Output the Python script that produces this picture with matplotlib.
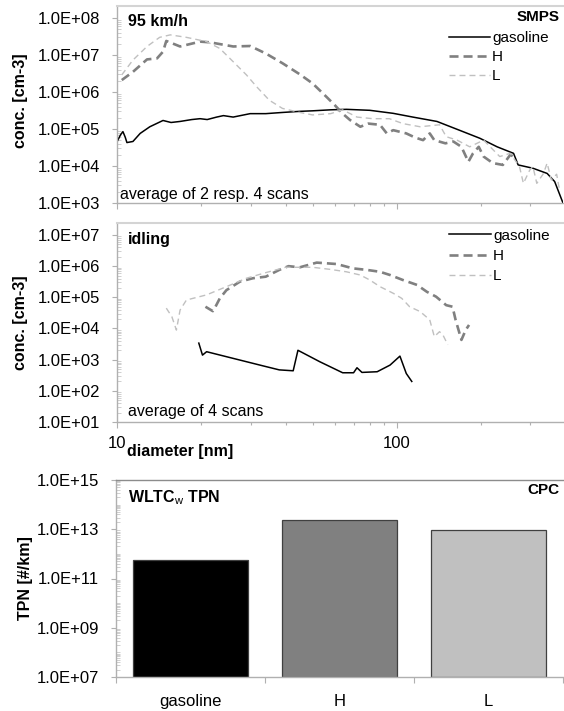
import numpy as np
import matplotlib
matplotlib.use("Agg")
import matplotlib.pyplot as plt
from matplotlib.ticker import FixedLocator, FuncFormatter, NullFormatter

plt.rcParams['font.family'] = ['Liberation Sans', 'DejaVu Sans']
plt.rcParams['mathtext.fontset'] = 'custom'
plt.rcParams['mathtext.rm'] = 'Liberation Sans'
plt.rcParams['mathtext.bf'] = 'Liberation Sans:bold'
plt.rcParams['lines.scale_dashes'] = False

# ---------------- data ----------------
# 95 km/h (SMPS)
d95_gas = [10.0, 10.3, 10.5, 10.7, 10.85, 11.4, 12.1, 13.1, 14.6, 15.6, 16.8, 18.5, 19.8, 21.0, 22.7, 24.0,
           26.0, 29.9, 34.0, 39.0, 45.0, 50.0, 58.0, 66.0, 80.0, 97.0, 114.0, 139.0, 167.0, 198.0, 228.0,
           261.0, 271.0, 306.0, 344.0, 366.0, 392.0]
c95_gas = [4.5e4, 7e4, 8.5e4, 6e4, 4.3e4, 4.6e4, 7.6e4, 1.15e5, 1.7e5, 1.5e5, 1.6e5, 1.8e5, 1.9e5, 1.8e5, 2.1e5, 2.3e5,
           2.1e5, 2.6e5, 2.6e5, 2.8e5, 3.0e5, 3.1e5, 3.3e5, 3.4e5, 3.2e5, 2.65e5, 2.1e5, 1.6e5, 9.3e4, 5.6e4, 3.3e4,
           2.2e4, 1.07e4, 8.7e3, 6.3e3, 3.8e3, 1.0e3]
d95_H = [10.4, 11.4, 12.8, 13.9, 14.6, 15.0, 16.8, 19.8, 21.5, 26.0, 29.9, 34.0, 39.0, 45.0, 50.0, 56.0, 60.0,
         64.0, 68.0, 74.0, 79.0, 87.0, 92.0, 97.0, 108.0, 116.0, 124.0, 131.0, 136.0, 149.0, 159.0, 170.0,
         180.0, 187.0, 196.0, 204.0, 220.0, 239.0, 254.0, 261.0]
c95_H = [2.1e6, 3.5e6, 7.6e6, 8.1e6, 1.23e7, 2.4e7, 1.7e7, 2.3e7, 2.2e7, 1.7e7, 1.75e7, 1.1e7, 6e6, 3e6, 1.7e6,
         7.4e5, 4.4e5, 2.6e5, 1.75e5, 1.15e5, 1.4e5, 1.3e5, 7.6e4, 9.3e4, 7.6e4, 5.9e4, 5e4, 7.6e4, 5e4,
         4.1e4, 4.6e4, 3.3e4, 1.3e4, 2.2e4, 3.3e4, 1.8e4, 1.2e4, 1.07e4, 2e4, 1.8e4]
d95_L = [10.4, 11.4, 12.8, 14.2, 15.5, 17.7, 20.9, 23.3, 26.0, 29.0, 31.5, 35.0, 39.0, 45.0, 50.0, 58.0, 64.0,
         72.0, 82.0, 94.0, 105.0, 121.0, 142.0, 150.0, 164.0, 182.0, 204.0, 220.0, 233.0, 254.0, 274.0, 283.0,
         298.0, 306.0, 316.0, 334.0, 344.0, 356.0, 372.0, 380.0]
c95_L = [2.9e6, 7.3e6, 1.7e7, 3e7, 3.5e7, 3e7, 2.3e7, 1.5e7, 6.6e6, 2.9e6, 1.4e6, 6e5, 3.6e5, 2.8e5, 2.4e5,
         2.6e5, 3.3e5, 2.1e5, 1.9e5, 1.9e5, 1.4e5, 1.15e5, 1.3e5, 6.2e4, 5e4, 3.3e4, 5e4, 2.8e4, 1.8e4, 2.2e4,
         9.7e3, 3.4e3, 7.7e3, 9.7e3, 3.4e3, 6.3e3, 1.2e4, 4.2e3, 6e3, 2.5e3]

# idling (SMPS)
did_gas = [19.6, 20.2, 20.9, 26.0, 33.3, 38.0, 42.6, 44.3, 53.0, 64.0, 70.0, 72.0, 75.0, 85.0, 94.5, 102.5,
           108.0, 113.0]
cid_gas = [3.4e3, 1.4e3, 1.8e3, 1.1e3, 6.3e2, 4.7e2, 4.4e2, 2.0e3, 8.6e2, 3.8e2, 3.8e2, 5.5e2, 3.9e2, 4.1e2,
           6.7e2, 1.3e3, 3.6e2, 2.0e2]
did_H = [20.7, 22.0, 22.4, 23.3, 24.6, 27.5, 30.6, 34.0, 38.0, 41.0, 45.0, 51.7, 61.0, 69.6, 78.0, 87.0, 94.5,
         105.0, 118.0, 128.0, 138.0, 150.0, 158.0, 162.0, 170.0, 176.0, 181.0]
cid_H = [5e4, 3.6e4, 4.7e4, 9.3e4, 1.7e5, 3.2e5, 4.1e5, 4.6e5, 7.6e5, 1.0e6, 9.2e5, 1.3e6, 1.17e6, 8.5e5,
         7.6e5, 6.6e5, 5.2e5, 3.6e5, 2.5e5, 1.5e5, 1.05e5, 5.6e4, 5e4, 1.9e4, 4.3e3, 8.9e3, 1.3e4]
did_L = [15.0, 15.7, 16.3, 16.8, 17.7, 20.9, 24.6, 29.0, 34.0, 40.0, 50.0, 57.7, 66.0, 74.0, 80.0, 87.0, 97.0,
         104.0, 111.0, 121.0, 131.0, 136.0, 142.0, 146.0, 150.0, 152.0]
cid_L = [4.5e4, 2.4e4, 8.9e3, 3.9e4, 8.2e4, 1.2e5, 2.2e5, 4.1e5, 6.2e5, 9.2e5, 9.2e5, 7.9e5, 6.6e5, 5.2e5,
         3.6e5, 2.2e5, 1.35e5, 9.3e4, 5e4, 3.5e4, 1.9e4, 5.5e3, 7.9e3, 6.2e3, 3.8e3, 3.0e3]

# WLTC TPN (CPC)
fuels = ['gasoline', 'H', 'L']
tpn = [5.9e11, 2.3e13, 8.9e12]

series_labels = ['gasoline', 'H', 'L']

# ---------------- styles ----------------
W, H = 564, 711
fig = plt.figure(figsize=(W / 100, H / 100), dpi=100)

def frac(l, t, r, b):
    return [l / W, 1 - b / H, (r - l) / W, (b - t) / H]

GRID = '#b0b0b0'
FRAME = '#d4d4d4'
FS = 11.5
FT = 12

def sci(v, pos):
    return f"{v:.1E}"

def style_log_y(ax, majors, top_val):
    ax.set_yscale('log')
    ax.yaxis.set_major_locator(FixedLocator(majors))
    mins = []
    lo, hi = np.log10(majors[0]), np.log10(top_val)
    for e in range(int(lo), int(hi) + 1):
        for s in range(1, 10):
            v = s * 10.0 ** e
            if majors[0] < v <= top_val and v not in majors:
                mins.append(v)
    ax.yaxis.set_minor_locator(FixedLocator(mins))
    ax.yaxis.set_minor_formatter(NullFormatter())
    ax.yaxis.set_major_formatter(FuncFormatter(sci))
    ax.tick_params(axis='y', which='major', direction='out', length=3.6, width=0.8, color=GRID,
                   labelsize=FT, pad=8.5)
    ax.tick_params(axis='y', which='minor', direction='in', length=3.0, width=0.6, color='#c8c8c8')
    for s in ['left', 'bottom']:
        ax.spines[s].set_color(GRID)
        ax.spines[s].set_linewidth(1.0)
    ax.spines['right'].set_visible(False)

def style_x(ax, labels):
    ax.set_xscale('log')
    ax.set_xlim(10, 392)
    ax.xaxis.set_major_locator(FixedLocator([10, 100]))
    ax.xaxis.set_minor_locator(FixedLocator([20, 30, 40, 50, 60, 70, 80, 90, 200, 300]))
    ax.xaxis.set_minor_formatter(NullFormatter())
    if labels:
        ax.xaxis.set_major_formatter(FuncFormatter(lambda v, p: f"{v:g}"))
    else:
        ax.xaxis.set_major_formatter(NullFormatter())
    ax.tick_params(axis='x', which='major', direction='out', length=4.3, width=0.8, color=GRID,
                   labelsize=FT, pad=6)
    ax.tick_params(axis='x', which='minor', direction='out', length=2.5, width=0.8, color=GRID)

def plot_lines(ax, d_g, c_g, d_h, c_h, d_l, c_l):
    ax.plot(d_g, c_g, color='black', lw=1.1, label=series_labels[0])
    ax.plot(d_h, c_h, color='#808080', lw=1.9, linestyle=(0, (6.5, 3.6)), label=series_labels[1])
    ax.plot(d_l, c_l, color='#c0c0c0', lw=1.0, linestyle=(0, (4.3, 2.9)), label=series_labels[2])

def add_legend(ax, x, y, spacing):
    leg = ax.legend(loc='upper right', bbox_to_anchor=(x, y), frameon=False, fontsize=11,
                    handlelength=2.7, handletextpad=0.15, labelspacing=spacing, borderpad=0,
                    borderaxespad=0)
    return leg

# ---------------- top panel: 95 km/h ----------------
ax1 = fig.add_axes(frac(117, 6, 563, 203))
plot_lines(ax1, d95_gas, c95_gas, d95_H, c95_H, d95_L, c95_L)
top1 = 10 ** (8 + 12 / 37)
ax1.set_ylim(1e3, top1)
style_log_y(ax1, [1e3, 1e4, 1e5, 1e6, 1e7, 1e8], 1e8)
style_x(ax1, False)
ax1.spines['top'].set_color(FRAME)
ax1.spines['top'].set_linewidth(1.5)
ax1.set_ylabel('conc. [cm-3]', fontsize=FS, fontweight='bold')
ax1.yaxis.set_label_coords((28 - 117) / 446, 0.52)
ax1.text(0.025, 0.919, '95 km/h', transform=ax1.transAxes, fontsize=FS, fontweight='bold',
         ha='left', va='center')
ax1.text(0.993, 0.944, 'SMPS', transform=ax1.transAxes, fontsize=11, fontweight='bold',
         ha='right', va='center')
ax1.text(0.006, 0.018, 'average of 2 resp. 4 scans', transform=ax1.transAxes, fontsize=FS,
         ha='left', va='baseline')
add_legend(ax1, 0.968, 0.872, 0.32)

# ---------------- middle panel: idling ----------------
ax2 = fig.add_axes(frac(117, 223, 563, 422))
plot_lines(ax2, did_gas, cid_gas, did_H, cid_H, did_L, cid_L)
top2 = 10 ** (7 + 12 / 31.17)
ax2.set_ylim(10, top2)
style_log_y(ax2, [1e1, 1e2, 1e3, 1e4, 1e5, 1e6, 1e7], 1e7)
style_x(ax2, True)
ax2.spines['top'].set_color(FRAME)
ax2.spines['top'].set_linewidth(1.5)
ax2.set_ylabel('conc. [cm-3]', fontsize=FS, fontweight='bold')
ax2.yaxis.set_label_coords((28 - 117) / 446, 0.50)
ax2.set_xlabel('diameter [nm]', fontsize=FS, fontweight='bold')
ax2.xaxis.set_label_coords((180 - 117) / 446, -0.15)
ax2.xaxis.label.set_va('center')
ax2.text(0.025, 0.915, 'idling', transform=ax2.transAxes, fontsize=FS, fontweight='bold',
         ha='left', va='center')
ax2.text(0.025, 0.03, 'average of 4 scans', transform=ax2.transAxes, fontsize=FS,
         ha='left', va='baseline')
add_legend(ax2, 0.970, 0.972, 0.42)

# ---------------- bottom panel: TPN ----------------
ax3 = fig.add_axes(frac(116, 480, 563, 677))
xpos = np.arange(len(fuels))
ax3.bar(xpos, tpn, width=0.77, color=['black', '#808080', '#c0c0c0'], edgecolor='#404040',
        linewidth=0.9, bottom=1e7)
ax3.set_xlim(-0.5, len(fuels) - 0.5)
ax3.set_ylim(1e7, 1e15)
style_log_y(ax3, [1e7, 1e9, 1e11, 1e13, 1e15], 1e15)
ax3.spines['top'].set_color('#8c8c8c')
ax3.spines['top'].set_linewidth(1.0)
ax3.set_xticks(xpos)
ax3.set_xticklabels(fuels)
ax3.set_xticks(np.arange(-0.5, len(fuels)), minor=True)
ax3.tick_params(axis='x', which='major', length=0, labelsize=FT, pad=12)
ax3.tick_params(axis='x', which='minor', direction='out', length=4.3, width=0.8, color=GRID)
ax3.set_ylabel('TPN [#/km]', fontsize=FS, fontweight='bold')
ax3.yaxis.set_label_coords((33 - 116) / 447, 0.5)
ax3.text(0.027, 0.909, r'$\mathbf{WLTC}_{\mathrm{w}}$ TPN', transform=ax3.transAxes, fontsize=FS,
         fontweight='bold', ha='left', va='center')
ax3.text(0.993, 0.949, 'CPC', transform=ax3.transAxes, fontsize=11, fontweight='bold',
         ha='right', va='center')

fig.savefig('out.png', dpi=100)
